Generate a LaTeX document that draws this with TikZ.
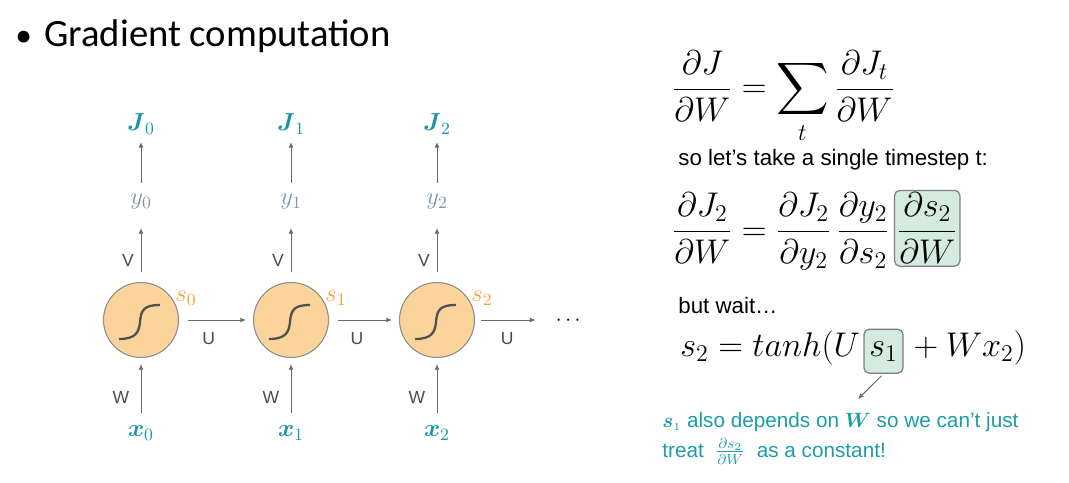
\RequirePackage{fix-cm}
\documentclass[tikz,border=0pt]{standalone}
\usepackage{amsmath}
\usepackage{fontspec}
\setmainfont{Liberation Sans}
\newfontfamily\titlefont{Carlito}
\usetikzlibrary{calc,arrows.meta}

\definecolor{cellfill}{HTML}{FBD49C}
\definecolor{cellline}{HTML}{8C8C8C}
\definecolor{sigdark}{HTML}{505050}
\definecolor{arrgray}{HTML}{6A6A6A}
\definecolor{labgray}{HTML}{4A4A4A}
\definecolor{costteal}{HTML}{1795A6}
\definecolor{outgray}{HTML}{7B98A8}
\definecolor{stateorange}{HTML}{F5A233}
\definecolor{boxgreen}{HTML}{D4EBDF}
\definecolor{boxline}{HTML}{7D7D7D}
\definecolor{noteteal}{HTML}{1C9CA9}

\begin{document}
\begin{tikzpicture}[x=0.02cm,y=-0.02cm,
  cell/.style={circle,draw=cellline,line width=0.6pt,fill=cellfill,minimum size=1.5cm,inner sep=0pt},
  sig/.style={draw=sigdark,line width=1.3pt},
  conn/.style={draw=arrgray,line width=0.55pt,-{Latex[length=3.2pt,width=2.8pt]}},
  wlabel/.style={font=\fontsize{10}{12}\selectfont,text=labgray,inner sep=0pt},
  tlabel/.style={font=\fontsize{14}{16}\selectfont,inner sep=0pt},
  hl/.style={draw=boxline,fill=boxgreen,rounded corners=3pt,line width=0.7pt},
  eq/.style={font=\fontsize{19.5}{23}\selectfont,inner sep=0pt},
  prose/.style={font=\fontsize{12.7}{15}\selectfont,inner sep=0pt,anchor=base west},
  note/.style={prose,text=noteteal,font=\fontsize{11.8}{14}\selectfont}]
\useasboundingbox (0,0) rectangle (1069,483);

\node[anchor=base west,inner sep=0pt,font=\titlefont\fontsize{22}{26}\selectfont] (title) at (15,47) {{\fontsize{19}{19}\selectfont •}\hspace{7pt}Gradient computation};

\foreach \i/\x in {0/141,1/291,2/437} {
  \node[cell] (s\i) at (\x,320) {};
  \draw[sig] ($(s\i)+(-22,19)$) .. controls ($(s\i)+(-5,19)$) and ($(s\i)+(-2,12)$) .. ($(s\i)+(-1,2)$)
    .. controls ($(s\i)+(0,-10)$) and ($(s\i)+(3,-15)$) .. ($(s\i)+(19,-15)$);
  \node[tlabel,text=stateorange] (sl\i) at (\x+45,298) {$s_\i$};
  \node[tlabel,text=outgray] (y\i) at (\x,202) {$y_\i$};
  \node[tlabel,text=costteal] (J\i) at (\x,124) {$\boldsymbol{J}_\i$};
  \node[tlabel,text=costteal] (x\i) at (\x,433) {$\boldsymbol{x}_\i$};
  \node[wlabel] (v\i) at (\x-13,260) {V};
  \node[wlabel] (w\i) at (\x-20,397) {W};
  \draw[conn] ($(s\i.north)+(0,-10)$) -- ($(y\i)+(0,26)$);
  \draw[conn] ($(y\i)+(0,-19)$) -- ($(J\i)+(0,18)$);
  \draw[conn] ($(x\i)+(0,-20)$) -- ($(s\i.south)+(0,6)$);
}
\node[inner sep=0pt,font=\fontsize{12}{12}\selectfont] (more) at (570,321) {$\cdots$};

\draw[conn,shorten <=0.18cm,shorten >=0.14cm] (s0) -- node[wlabel,pos=.4,below=7pt] (u0) {U} (s1);
\draw[conn,shorten <=0.18cm,shorten >=0.14cm] (s1) -- node[wlabel,pos=.4,below=7pt] (u1) {U} (s2);
\draw[conn,shorten <=0.12cm,shorten >=0.4cm] (s2) -- node[wlabel,pos=.4,below=7pt] (u2) {U} (more.west |- s2);

\node[eq,anchor=base west] (sumeq) at (672,98) {$\displaystyle\frac{\partial J}{\partial W}=\sum_t\frac{\partial J_t}{\partial W}$};
\node[prose] (step) at (678,166) {so let’s take a single timestep t:};
\node[eq,anchor=base west] (chain) at (672,240) {$\displaystyle\frac{\partial J_2}{\partial W}=\frac{\partial J_2}{\partial y_2}\,\frac{\partial y_2}{\partial s_2}$};
\node[eq,hl,anchor=base west,inner sep=1.5pt] (dsdw) at ($(chain.base east)+(4,0)$) {$\displaystyle\frac{\partial s_2}{\partial W}$};

\node[prose] (wait) at (678,313) {but wait…};
\node[eq,anchor=base west] (tanheq) at (680,356) {$s_2=tanh(U$};
\node[eq,hl,anchor=base west,inner xsep=3pt,minimum height=0.88cm] (sone) at ($(tanheq.base east)+(3,0)$) {$s_1$};
\node[eq,anchor=base west] (tanhend) at ($(sone.base east)+(2,0)$) {${}+Wx_2)$};
\coordinate (tip) at (858,399);
\draw[conn] ($(sone.south)+(-2,2)$) -- (tip);

\node[note] (notea) at (662,427) {$\boldsymbol{s}_{\scriptscriptstyle 1}$ also depends on $\boldsymbol{W}$ so we can’t just};
\node[note] (noteb) at (662,457) {treat \ $\frac{\partial s_2}{\partial W}$ \ as a constant!};
\end{tikzpicture}
\end{document}
